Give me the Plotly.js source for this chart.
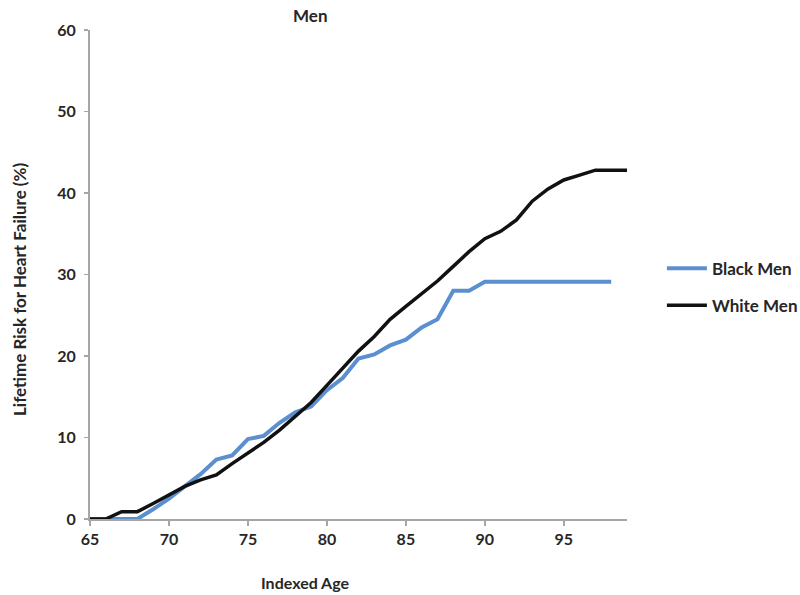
<!DOCTYPE html>
<html>
<head>
<meta charset="utf-8">
<script src="https://cdn.plot.ly/plotly-3.0.1.min.js"></script>
<style>html,body{margin:0;padding:0;background:#fff;}#chart{width:800px;height:595px;}</style>
</head>
<body>
<div id="chart"></div>
<script>
var ages = [65,66,67,68,69,70,71,72,73,74,75,76,77,78,79,80,81,82,83,84,85,86,87,88,89,90,91,92,93,94,95,96,97,98,99];
var blackMen = [0,0,0,0,1.2,2.5,4.0,5.5,7.3,7.8,9.8,10.2,11.8,13.1,13.8,15.8,17.3,19.7,20.2,21.3,22.0,23.5,24.5,28.0,28.0,29.1,29.1,29.1,29.1,29.1,29.1,29.1,29.1,29.1,null];
var whiteMen = [0,0,0.9,0.9,1.9,3.0,4.0,4.8,5.4,6.8,8.1,9.4,10.9,12.6,14.3,16.4,18.5,20.6,22.4,24.5,26.1,27.7,29.2,31.0,32.8,34.4,35.3,36.7,39.0,40.5,41.6,42.2,42.8,42.8,42.8];
var xTicks = [65,70,75,80,85,90,95];
var yTicks = [0,10,20,30,40,50,60];

function f(size) { return {family: 'Lato, "Open Sans", sans-serif', size: size, color: '#262626', weight: 700}; }

var traces = [
  {x: ages, y: blackMen, name: 'Black Men', type: 'scatter', mode: 'lines', legendgroup: 'a',
   line: {color: '#5b8fd0', width: 4}},
  {x: ages, y: whiteMen, name: 'White Men', type: 'scatter', mode: 'lines', legendgroup: 'b',
   line: {color: '#111111', width: 3.5}}
];

var layout = {
  width: 800, height: 595,
  margin: {l: 90, r: 173, t: 30, b: 76, autoexpand: false},
  paper_bgcolor: '#fff', plot_bgcolor: '#fff',
  font: f(15),
  showlegend: true,
  legend: {x: 1.065, xanchor: 'left', y: 0.474, yanchor: 'middle', font: f(17),
           tracegroupgap: 12, bgcolor: 'rgba(0,0,0,0)', itemwidth: 40},
  xaxis: {range: [65, 99], tickvals: xTicks, ticktext: xTicks.map(String), automargin: false,
          showgrid: false, zeroline: false, showline: true, linecolor: '#a6a6a6', linewidth: 2,
          ticks: 'outside', ticklen: 5, tickcolor: '#a6a6a6', tickwidth: 1.5, tickfont: f(16)},
  yaxis: {range: [0, 60], tickvals: yTicks, ticktext: yTicks.map(String), automargin: false,
          showgrid: false, zeroline: false, showline: true, linecolor: '#a6a6a6', linewidth: 2,
          ticks: 'outside', ticklen: 4, tickcolor: '#a6a6a6', tickwidth: 1.5, tickfont: f(16),
          ticklabelstandoff: 5},
  annotations: [
    {text: 'Men', xref: 'paper', yref: 'paper', x: (310-90)/537, y: 1, yshift: 15, showarrow: false,
     xanchor: 'center', yanchor: 'middle', font: f(17)},
    {text: 'Indexed Age', xref: 'paper', yref: 'paper', x: (305-90)/537, y: 0, yshift: -63, showarrow: false,
     xanchor: 'center', yanchor: 'middle', font: f(16)},
    {text: 'Lifetime Risk for Heart Failure (%)', xref: 'paper', yref: 'paper', x: 0, xshift: -71,
     y: (519-290)/489, showarrow: false, textangle: -90, xanchor: 'center', yanchor: 'middle', font: f(17)}
  ]
};

Plotly.newPlot('chart', traces, layout, {displayModeBar: false, staticPlot: true});
</script>
</body>
</html>
